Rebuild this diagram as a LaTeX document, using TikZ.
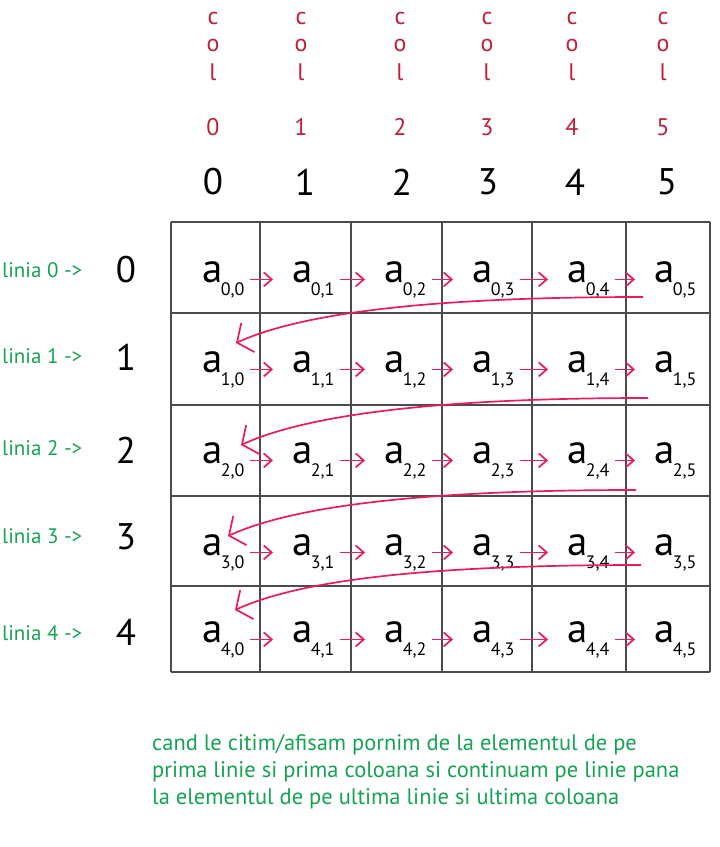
\documentclass[tikz,border=0pt]{standalone}
\usepackage{fontspec}
\setmainfont{PT Sans}
\usetikzlibrary{arrows.meta}

\definecolor{arrowred}{RGB}{232,28,88}
\definecolor{headred}{RGB}{188,32,58}
\definecolor{notegreen}{RGB}{22,162,84}
\definecolor{gridgray}{RGB}{75,75,75}

\newcommand\elem[2]{a\kern-1.5pt\raisebox{-13pt}{\fontsize{18}{18}\selectfont #1,#2}}

\begin{document}
\begin{tikzpicture}[x=1pt, y=-1pt, line join=round]

                \tikzset{
                  grid_line/.style  = {draw=gridgray, line width=1.1pt},
                  elem_node/.style  = {inner sep=0pt, outer sep=0pt, anchor=base west,
                                       font=\fontsize{41}{41}\selectfont},
                  head_num/.style   = {inner sep=0pt, font=\fontsize{37}{37}\selectfont},
                  col_char/.style   = {inner sep=0pt, anchor=base, text=headred,
                                       font=\fontsize{24}{24}\selectfont},
                  line_label/.style = {inner sep=0pt, anchor=base west, text=notegreen,
                                       font=\fontsize{21}{21}\selectfont},
                  next_arrow/.style = {draw=arrowred, line width=1.7pt,
                                       shorten <=5pt, shorten >=19pt,
                                       -{Straight Barb[length=8pt,width=14pt]}},
                  wrap_arrow/.style = {draw=arrowred, line width=1.7pt,
                                       -{Straight Barb[length=12pt,width=32pt]}}
                }

                \useasboundingbox (0,0) rectangle (720,847);

                \foreach \x in {171,260,351,442,532,626,710}{
                    \draw[grid_line] (\x,222) -- (\x,672);
                }
                \foreach \y in {222,313,405,496,586,672}{
                    \draw[grid_line] (171,\y) -- (710,\y);
                }

                \foreach \j/\xh/\xc in {0/213/213, 1/305/301, 2/402/400,
                                        3/488/487, 4/575/572, 5/667/663}{
                    \node[head_num] (head\j) at (\xh,182) {\j};
                    \foreach \ch/\yb in {c/24, o/51, l/80}{
                        \node[col_char] (col\j-\ch) at (\xc,\yb) {\ch};
                    }
                    \node[col_char] (col\j-num) at (\xc,135) {\j};
                }

                \foreach \i/\yc/\yb in {0/270/277, 1/357/363, 2/450/455,
                                        3/537/543, 4/632/640}{
                    \node[head_num] (row\i) at (126,\yc) {\i};
                    \node[line_label] (linia\i) at (2,\yb) {linia \i\ ->};
                }

                \foreach \i/\yb in {0/282, 1/372, 2/463, 3/555, 4/642}{
                    \foreach \j/\xa in {0/202, 1/292, 2/384, 3/472, 4/567, 5/654}{
                        \node[elem_node] (a\i\j) at (\xa,\yb) {\elem{\i}{\j}};
                    }
                }

                \foreach \i in {0,...,4}{
                    \foreach \j [evaluate=\j as \k using int(\j+1)] in {0,...,4}{
                        \draw[next_arrow] (a\i\j) -- (a\i\k);
                    }
                }

                \foreach \i/\sx/\sy/\ex/\ey in {0/643/297/236/343, 1/648/398/241/445,
                                                2/636/490/228/536, 3/641/565/235/610}{
                    \coordinate (wrapstart\i) at (\sx,\sy);
                    \coordinate (wrapend\i) at (\ex,\ey);
                    \draw[wrap_arrow] (wrapstart\i) .. controls +(-200,0) and +(70,-32) .. (wrapend\i);
                }

                \node[inner sep=0pt, anchor=north west, align=left, text=notegreen,
                      font=\fontsize{22.5}{27}\selectfont] (note) at (152,734)
                     {cand le citim/afisam pornim de la elementul de pe\\
                      prima linie si prima coloana si continuam pe linie pana\\
                      la elementul de pe ultima linie si ultima coloana};
            \end{tikzpicture}
\end{document}
